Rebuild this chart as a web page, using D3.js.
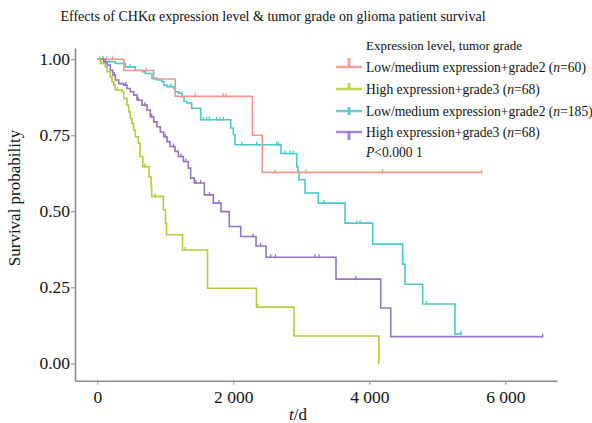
<!DOCTYPE html>
<html><head><meta charset="utf-8">
<script src="https://cdn.jsdelivr.net/npm/d3@7"></script>
<style>body{margin:0;background:#fff}svg{display:block}text{font-family:"Liberation Serif","Times New Roman",serif}</style>
</head><body><svg id="c" width="592" height="423"></svg>
<script>
// ---- data ----
const seriesNames = [
  "Low/medium expression+grade2 (n=60)",
  "High expression+grade3 (n=68)",
  "Low/medium expression+grade2 (n=185)",
  "High expression+grade3 (n=68)"
];
const seriesColors = ["#F4968E", "#B6CB3C", "#4CC8C8", "#9474C2"];

const redTimes = [0, 390, 830, 1145, 2280, 2425, 5653];
const redSurv  = [1, 0.963, 0.935, 0.878, 0.75, 0.628, 0.628];
const redCens  = [88, 138, 226, 716, 1440, 1850, 1893, 2613, 3069, 4194, 5653];

const greenTimes = [0, 44, 118, 143, 191, 216, 241, 265, 363, 388, 437, 461, 485, 510, 535, 559, 603, 628, 668, 760, 790, 800, 971, 1003, 1018, 1253, 1621, 2341, 2893, 4140, 4147];
const greenSurv  = [1, 0.986, 0.975, 0.959, 0.942, 0.926, 0.915, 0.899, 0.893, 0.871, 0.849, 0.827, 0.805, 0.789, 0.767, 0.745, 0.724, 0.680, 0.647, 0.614, 0.582, 0.549, 0.505, 0.461, 0.423, 0.373, 0.247, 0.185, 0.090, 0, 0];
const greenCens  = [60, 300, 700, 850, 1290, 2360];

const tealTimes = [0, 118, 265, 412, 559, 657, 706, 804, 878, 951, 976, 1025, 1124, 1147, 1197, 1246, 1275, 1315, 1388, 1520, 1962, 2000, 2025, 2701, 2932, 2951, 2966, 3054, 3250, 3643, 4050, 4491, 4525, 4785, 5260, 5359];
const tealSurv  = [1, 0.992, 0.986, 0.975, 0.964, 0.959, 0.953, 0.937, 0.932, 0.926, 0.915, 0.910, 0.904, 0.893, 0.888, 0.877, 0.861, 0.856, 0.839, 0.801, 0.774, 0.752, 0.719, 0.690, 0.647, 0.631, 0.604, 0.560, 0.527, 0.461, 0.392, 0.326, 0.260, 0.195, 0.097, 0.097];
const tealCens  = [40, 80, 180, 480, 1080, 1559, 1609, 1647, 1756, 1804, 1853, 2124, 2344, 2638, 2662, 2760, 2834, 2880, 3334, 3815, 3863, 4843, 5349];

const purpleTimes = [0, 94, 143, 191, 226, 265, 315, 388, 437, 485, 535, 584, 657, 731, 779, 829, 878, 926, 976, 1025, 1069, 1143, 1191, 1265, 1338, 1373, 1426, 1574, 1706, 1819, 1941, 2109, 2334, 2481, 3510, 4168, 4315, 6550];
const purpleSurv  = [1, 0.991, 0.981, 0.964, 0.948, 0.932, 0.920, 0.915, 0.904, 0.893, 0.882, 0.866, 0.849, 0.833, 0.811, 0.794, 0.778, 0.761, 0.745, 0.729, 0.713, 0.697, 0.680, 0.664, 0.642, 0.609, 0.593, 0.554, 0.527, 0.499, 0.450, 0.417, 0.386, 0.349, 0.277, 0.182, 0.088, 0.088];
const purpleCens  = [120, 250, 420, 600, 700, 800, 1000, 1120, 1230, 1300, 1450, 1520, 1650, 1790, 2290, 2400, 2550, 2620, 3200, 3260, 3800, 6550];

const xTicks = [0, 2000, 4000, 6000];
const yTicks = [0, 0.25, 0.5, 0.75, 1];

const titleText = "Effects of CHKα expression level & tumor grade on glioma patient survival";
const legendTitle = "Expression level, tumor grade";
const pText = "<0.000 1";

// ---- drawing ----
const svg = d3.select("#c");
const x = d3.scaleLinear().domain([-328, 6760]).range([75, 557]);
const y = d3.scaleLinear().domain([-0.057, 1.037]).range([380.7, 48]);

const series = [
  {t: redTimes, s: redSurv, c: redCens},
  {t: greenTimes, s: greenSurv, c: greenCens},
  {t: tealTimes, s: tealSurv, c: tealCens},
  {t: purpleTimes, s: purpleSurv, c: purpleCens}
];

function survAt(ser, t) {
  let v = ser.s[0];
  for (let i = 0; i < ser.t.length; i++) { if (ser.t[i] <= t) v = ser.s[i]; }
  return v;
}

const line = d3.line().x(d => x(d[0])).y(d => y(d[1])).curve(d3.curveStepAfter);

[2, 0, 3, 1].forEach(i => {
  const ser = series[i];
  const pts = ser.t.map((t, k) => [t, ser.s[k]]);
  svg.append("path").attr("d", line(pts)).attr("fill", "none")
    .attr("stroke", seriesColors[i]).attr("stroke-width", 1.6);
  svg.append("g").selectAll("line").data(ser.c).join("line")
    .attr("x1", d => x(d)).attr("x2", d => x(d))
    .attr("y1", d => y(survAt(ser, d)) - 3).attr("y2", d => y(survAt(ser, d)) + 1)
    .attr("stroke", seriesColors[i]).attr("stroke-width", 1.3);
});

// axes
const fmtX = d => d === 0 ? "0" : d3.format(",")(d).replace(/,/g, " ");
const xAxis = svg.append("g").attr("transform", "translate(0,380.7)")
  .call(d3.axisBottom(x).tickValues(xTicks).tickFormat(fmtX).tickSize(4).tickSizeOuter(0));
const yAxis = svg.append("g").attr("transform", "translate(75,0)")
  .call(d3.axisLeft(y).tickValues(yTicks).tickFormat(d3.format(".2f")).tickSize(4).tickSizeOuter(0));
[xAxis, yAxis].forEach(a => {
  a.select(".domain").attr("stroke", "#8a8a8a").attr("stroke-width", 1.6);
  a.selectAll(".tick line").attr("stroke", "#8a8a8a").attr("stroke-width", 1);
  a.selectAll("text").attr("fill", "#111").style("font-size", "17.5px")
    .style("font-family", '"Liberation Serif","Times New Roman",serif');
});
xAxis.selectAll("text").attr("dy", "0.9em");
yAxis.selectAll("text").attr("x", -5);

// axis titles
const xt = svg.append("text").attr("x", 298).attr("y", 420).attr("text-anchor", "middle")
  .style("font-size", "17px").attr("fill", "#111");
xt.append("tspan").style("font-style", "italic").text("t");
xt.append("tspan").text("/d");
svg.append("text").attr("transform", "translate(20,198) rotate(-90)").attr("text-anchor", "middle")
  .style("font-size", "17px").attr("fill", "#111").text("Survival probability");

// title
svg.append("text").attr("x", 273).attr("y", 21).attr("text-anchor", "middle")
  .style("font-size", "14px").attr("fill", "#111").text(titleText);

// legend
const lg = svg.append("g");
lg.append("text").attr("x", 366).attr("y", 49.5).style("font-size", "13px").attr("fill", "#111").text(legendTitle);
const rowY = [67, 89, 111, 132];
const tickDir = [[-9, 0], [-6, 0], [-4, 4], [0, 8]];
seriesNames.forEach((n, i) => {
  const cy = rowY[i];
  lg.append("line").attr("x1", 336).attr("x2", 362).attr("y1", cy).attr("y2", cy)
    .attr("stroke", seriesColors[i]).attr("stroke-width", 2.5).attr("opacity", 0.85);
  lg.append("line").attr("x1", 349).attr("x2", 349).attr("y1", cy + tickDir[i][0]).attr("y2", cy + tickDir[i][1])
    .attr("stroke", seriesColors[i]).attr("stroke-width", 3).attr("opacity", 0.85);
  const m = n.match(/^(.*\()n(=\d+\))$/);
  const t = lg.append("text").attr("x", 366).attr("y", cy + 4.5).style("font-size", "13.6px").attr("fill", "#111");
  t.append("tspan").text(m[1]);
  t.append("tspan").style("font-style", "italic").text("n");
  t.append("tspan").text(m[2]);
});
const pt = lg.append("text").attr("x", 366).attr("y", 157).style("font-size", "13.6px").attr("fill", "#111");
pt.append("tspan").style("font-style", "italic").text("P");
pt.append("tspan").text(pText);
</script></body></html>
